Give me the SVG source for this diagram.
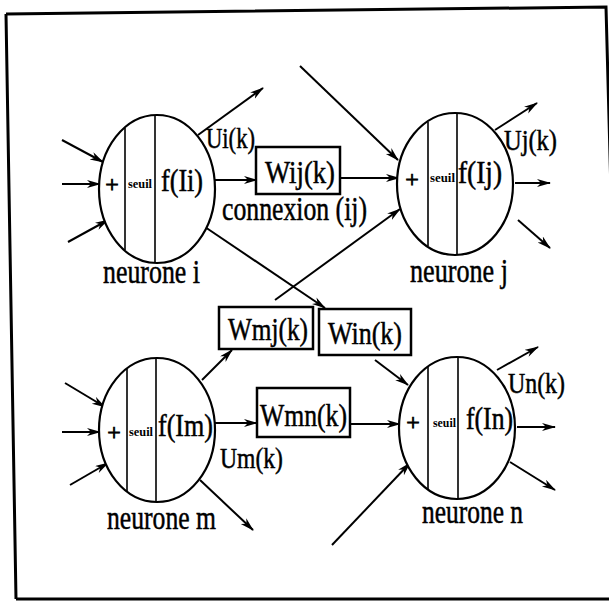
<svg xmlns="http://www.w3.org/2000/svg" width="609" height="602" viewBox="0 0 609 602">
<defs>
<marker id="ah" markerUnits="userSpaceOnUse" markerWidth="16" markerHeight="10" refX="13" refY="4" orient="auto">
<path d="M0,0 L14,4 L0,8 L4,4 z" fill="#000"/>
</marker>
<style>
.c{stroke:#000;stroke-width:2;fill:none;marker-end:url(#ah)}
.e{stroke:#000;stroke-width:2.2;fill:#fff}
.d{stroke:#000;stroke-width:1.6}
.b{stroke:#000;stroke-width:2.5;fill:#fff}
.t{font-family:"Liberation Serif","Times New Roman",serif;fill:#000;stroke:#000;stroke-width:0.5}
.u{font-size:29px}
.f{font-size:31px}
.w{font-size:32px}
.n{font-size:34px}
.p{font-size:24px;text-anchor:middle;stroke-width:0.8}
.s{font-family:"Liberation Serif","Times New Roman",serif;font-weight:bold;font-size:13px;fill:#000}
</style>
</defs>
<rect width="609" height="602" fill="#fff"/>
<path d="M6,14 L606,7 L622,602 M16,599 L6,14 M16,599 L609,599" fill="none" stroke="#000" stroke-width="3"/>

<g id="connectors">
<line class="c" x1="62" y1="140" x2="103" y2="162"/>
<line class="c" x1="62" y1="184" x2="100" y2="184"/>
<line class="c" x1="68" y1="242" x2="108" y2="220"/>
<line class="c" x1="198" y1="135" x2="263" y2="88"/>
<line class="c" x1="215" y1="180" x2="257" y2="180"/>
<line class="c" x1="205" y1="227" x2="325" y2="308"/>
<line class="c" x1="340" y1="178" x2="399" y2="178"/>
<line class="c" x1="300" y1="66" x2="398" y2="160"/>
<line class="c" x1="275" y1="300" x2="400" y2="209"/>
<line class="c" x1="495" y1="130" x2="537" y2="103"/>
<line class="c" x1="515" y1="183" x2="550" y2="183"/>
<line class="c" x1="518" y1="220" x2="550" y2="248"/>
<line class="c" x1="65" y1="383" x2="105" y2="407"/>
<line class="c" x1="62" y1="432" x2="100" y2="432"/>
<line class="c" x1="70" y1="485" x2="108" y2="463"/>
<line class="c" x1="202" y1="380" x2="232" y2="350"/>
<line class="c" x1="215" y1="423" x2="257" y2="423"/>
<line class="c" x1="200" y1="480" x2="253" y2="530"/>
<line class="c" x1="350" y1="424" x2="400" y2="424"/>
<line class="c" x1="375" y1="360" x2="408" y2="385"/>
<line class="c" x1="332" y1="545" x2="410" y2="463"/>
<line class="c" x1="497" y1="370" x2="538" y2="347"/>
<line class="c" x1="517" y1="427" x2="555" y2="427"/>
<line class="c" x1="510" y1="462" x2="555" y2="490"/>
</g>

<g id="neurone-i">
<ellipse class="e" cx="157" cy="189" rx="58" ry="74"/>
<line class="d" x1="125" y1="128" x2="125" y2="250"/>
<line class="d" x1="155" y1="115" x2="155" y2="263"/>
<text class="t p" x="112" y="192">+</text>
<text class="s" x="128" y="188" textLength="24" lengthAdjust="spacingAndGlyphs">seuil</text>
<text class="t f" x="161" y="191" textLength="42" lengthAdjust="spacingAndGlyphs">f(Ii)</text>
<text class="t n" x="103" y="283" textLength="97" lengthAdjust="spacingAndGlyphs">neurone i</text>
<text class="t u" x="206" y="148" textLength="49" lengthAdjust="spacingAndGlyphs">Ui(k)</text>
</g>

<g id="connexion-ij">
<rect class="b" x="256" y="147" width="84" height="47"/>
<text class="t w" x="265" y="183" textLength="70" lengthAdjust="spacingAndGlyphs">Wij(k)</text>
<text class="t n" x="222" y="220" textLength="145" lengthAdjust="spacingAndGlyphs">connexion (ij)</text>
</g>

<g id="neurone-j">
<ellipse class="e" cx="455" cy="184" rx="58" ry="71"/>
<line class="d" x1="428" y1="122" x2="428" y2="246"/>
<line class="d" x1="457" y1="113" x2="457" y2="255"/>
<text class="t p" x="412" y="187">+</text>
<text class="s" x="430" y="182" textLength="25" lengthAdjust="spacingAndGlyphs">seuil</text>
<text class="t f" x="458" y="183" textLength="44" lengthAdjust="spacingAndGlyphs">f(Ij)</text>
<text class="t n" x="410" y="282" textLength="98" lengthAdjust="spacingAndGlyphs">neurone j</text>
<text class="t u" x="504" y="150" textLength="53" lengthAdjust="spacingAndGlyphs">Uj(k)</text>
</g>

<g id="connexion-mj">
<rect class="b" x="219" y="307" width="94" height="42"/>
<text class="t w" x="228" y="340" textLength="80" lengthAdjust="spacingAndGlyphs">Wmj(k)</text>
</g>

<g id="connexion-in">
<rect class="b" x="319" y="309" width="92" height="46"/>
<text class="t w" x="328" y="344" textLength="74" lengthAdjust="spacingAndGlyphs">Win(k)</text>
</g>

<g id="connexion-mn">
<rect class="b" x="257" y="388" width="93" height="49"/>
<text class="t w" x="260" y="426" textLength="87" lengthAdjust="spacingAndGlyphs">Wmn(k)</text>
</g>

<g id="neurone-m">
<ellipse class="e" cx="157" cy="430" rx="58" ry="72"/>
<line class="d" x1="127" y1="369" x2="127" y2="491"/>
<line class="d" x1="156" y1="358" x2="156" y2="502"/>
<text class="t p" x="114" y="440">+</text>
<text class="s" x="129" y="436" textLength="24" lengthAdjust="spacingAndGlyphs">seuil</text>
<text class="t f" x="158" y="436" textLength="55" lengthAdjust="spacingAndGlyphs">f(Im)</text>
<text class="t n" x="107" y="529" textLength="109" lengthAdjust="spacingAndGlyphs">neurone m</text>
<text class="t u" x="220" y="468" textLength="63" lengthAdjust="spacingAndGlyphs">Um(k)</text>
</g>

<g id="neurone-n">
<ellipse class="e" cx="457" cy="428" rx="58" ry="71"/>
<line class="d" x1="428" y1="367" x2="428" y2="489"/>
<line class="d" x1="458" y1="357" x2="458" y2="499"/>
<text class="t p" x="413" y="430">+</text>
<text class="s" x="433" y="427" textLength="23" lengthAdjust="spacingAndGlyphs">seuil</text>
<text class="t f" x="466" y="429" textLength="47" lengthAdjust="spacingAndGlyphs">f(In)</text>
<text class="t n" x="422" y="523" textLength="101" lengthAdjust="spacingAndGlyphs">neurone n</text>
<text class="t u" x="508" y="393" textLength="57" lengthAdjust="spacingAndGlyphs">Un(k)</text>
</g>
</svg>
